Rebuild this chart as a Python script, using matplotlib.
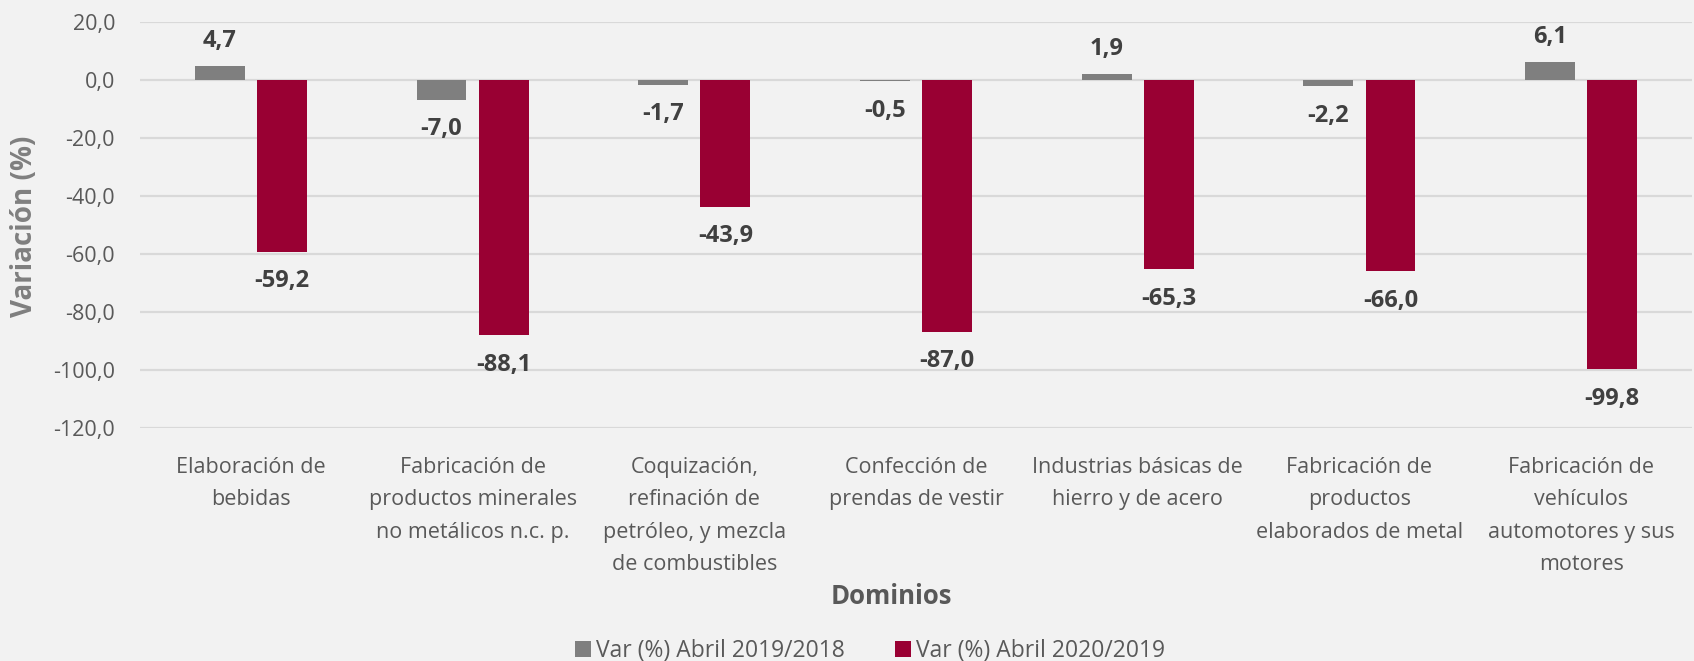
import matplotlib.pyplot as plt
import numpy as np
from matplotlib.ticker import FuncFormatter, MultipleLocator

plt.rcParams['font.family'] = ['Open Sans', 'DejaVu Sans']

categorias = ['Elaboración de\nbebidas',
              'Fabricación de\nproductos minerales\nno metálicos n.c. p.',
              'Coquización,\nrefinación de\npetróleo, y mezcla\nde combustibles',
              'Confección de\nprendas de vestir',
              'Industrias básicas de\nhierro y de acero',
              'Fabricación de\nproductos\nelaborados de metal',
              'Fabricación de\nvehículos\nautomotores y sus\nmotores']
var_2019 = [4.7, -7.0, -1.7, -0.5, 1.9, -2.2, 6.1]
var_2020 = [-59.2, -88.1, -43.9, -87.0, -65.3, -66.0, -99.8]
series = ['Var (%) Abril 2019/2018', 'Var (%) Abril 2020/2019']

fondo = '#F2F2F2'
gris_txt = '#595959'

fig = plt.figure(figsize=(16.94, 6.61), dpi=100, facecolor=fondo)
ax = fig.add_axes([140 / 1694, 1 - 428 / 661, 1552 / 1694, 406 / 661], facecolor=fondo)

x = np.arange(len(categorias))
w = 0.225
b1 = ax.bar(x - 0.14, var_2019, w, color='#7F7F7F', label=series[0], zorder=3)
b2 = ax.bar(x + 0.14, var_2020, w, color='#990033', label=series[1], zorder=3)

fmt = lambda v: f'{v:.1f}'.replace('.', ',')
for bars in (b1, b2):
    for rect, v in zip(bars, bars.datavalues):
        dy = 18 if v >= 0 else -21
        ax.annotate(fmt(v), (rect.get_x() + rect.get_width() / 2, v),
                    xytext=(0, dy), textcoords='offset points', ha='center', va='center',
                    fontsize=17, fontweight='bold', color='#404040')

ax.set_ylim(-120, 20)
ax.set_xlim(-0.5, len(categorias) - 0.5)
ax.yaxis.set_major_locator(MultipleLocator(20))
ax.yaxis.set_major_formatter(FuncFormatter(lambda v, p: fmt(v)))
ax.grid(axis='y', color='#D9D9D9', linewidth=1.6, zorder=0)
for s in ax.spines.values():
    s.set_visible(False)
ax.tick_params(axis='both', length=0, labelsize=15.5, colors=gris_txt)
ax.tick_params(axis='y', pad=18)
ax.tick_params(axis='x', pad=21)
ax.set_xticks(x)
ax.set_xticklabels(categorias, linespacing=1.7)

fig.text(24 / 1694, 1 - 226 / 661, 'Variación (%)', rotation=90, ha='center', va='center',
         fontsize=20, fontweight='bold', color='#7F7F7F')
fig.text(891 / 1694, 1 - 596 / 661, 'Dominios', ha='center', va='center',
         fontsize=18.5, fontweight='bold', color=gris_txt)

fig.legend(handles=[b1, b2], labels=series, loc='center', bbox_to_anchor=(870 / 1694, 1 - 651 / 661),
           ncol=2, frameon=False, fontsize=16.5, labelcolor=gris_txt,
           handlelength=0.7, handleheight=0.7, handletextpad=0.2, columnspacing=2.2)

fig.savefig('out.png', dpi=100, facecolor=fondo)
